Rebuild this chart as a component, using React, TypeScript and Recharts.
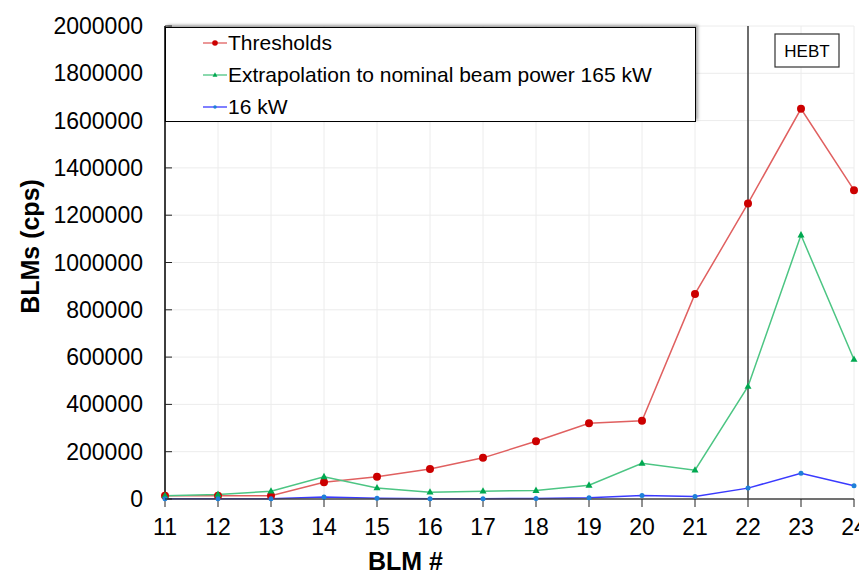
import React from "react";
import {
  LineChart,
  Line,
  XAxis,
  YAxis,
  CartesianGrid,
  ReferenceLine,
  Legend,
} from "recharts";

const blmIds = [11, 12, 13, 14, 15, 16, 17, 18, 19, 20, 21, 22, 23, 24];
const thresholds = [14000, 14000, 14000, 71000, 94000, 127000, 174000, 244000, 320000, 331000, 867000, 1250000, 1650000, 1306000];
const extrapolation = [14000, 19000, 33000, 94000, 47000, 29000, 33000, 36000, 58000, 151000, 122000, 476000, 1116000, 590000];
const kw16 = [1000, 1000, 1000, 8000, 3000, 1000, 1500, 2000, 5000, 15000, 11000, 46000, 109000, 56000];
const yTicks = [0, 200000, 400000, 600000, 800000, 1000000, 1200000, 1400000, 1600000, 1800000, 2000000];

const data = blmIds.map((b, i) => ({
  blm: b,
  thresholds: thresholds[i],
  extrapolation: extrapolation[i],
  kw16: kw16[i],
}));

const FONT = "'Liberation Sans', Arial, sans-serif";

const series = [
  { key: "thresholds", name: "Thresholds", line: "#e06060", dot: "#cc0000", shape: "circle" },
  { key: "extrapolation", name: "Extrapolation to nominal beam power 165 kW", line: "#4cc583", dot: "#00a850", shape: "triangle" },
  { key: "kw16", name: "16 kW", line: "#3a3aff", dot: "#1e80d8", shape: "small" },
];

const Marker = ({ cx, cy, shape, color, scale = 1 }: any) => {
  if (cx == null || cy == null) return null;
  if (shape === "circle") return <circle cx={cx} cy={cy} r={4 * scale} fill={color} />;
  if (shape === "triangle") {
    const h = 4 * scale;
    const w = 3.5 * scale;
    return <path d={`M${cx},${cy - h} L${cx + w},${cy + h * 0.6} L${cx - w},${cy + h * 0.6} Z`} fill={color} />;
  }
  return <circle cx={cx} cy={cy} r={2.5 * scale} fill={color} />;
};

const YTick = ({ x, y, payload }: any) => (
  <g>
    <line x1={x} x2={x + 7} y1={y} y2={y} stroke="#222" strokeWidth={1} />
    <text x={x - 22} y={y} textAnchor="end" dominantBaseline="central" fontSize={23} fontFamily={FONT} fill="#000">
      {payload.value}
    </text>
  </g>
);

const YLabel = ({ viewBox }: any) => {
  const cx = viewBox.x + 30;
  const cy = viewBox.y + viewBox.height / 2 - 16;
  return (
    <text
      x={cx}
      y={cy}
      transform={`rotate(-90, ${cx}, ${cy})`}
      textAnchor="middle"
      dominantBaseline="central"
      fontSize={25}
      fontWeight="bold"
      fontFamily={FONT}
      fill="#000"
    >
      BLMs (cps)
    </text>
  );
};

const HebtLabel = ({ viewBox }: any) => {
  const x = viewBox.x + 27;
  const y = viewBox.y + 8;
  return (
    <g>
      <rect x={x} y={y} width={64} height={33} fill="#fff" stroke="#333" strokeWidth={1.2} />
      <text x={x + 32} y={y + 17} textAnchor="middle" dominantBaseline="central" fontSize={17} fontFamily={FONT} fill="#000">
        HEBT
      </text>
    </g>
  );
};

const LegendBox = () => (
  <div
    style={{
      width: 531,
      height: 95,
      boxSizing: "border-box",
      border: "1.5px solid #000",
      background: "#fff",
      boxShadow: "2px -2px 3px rgba(0,0,0,0.35)",
      paddingLeft: 37,
      fontFamily: FONT,
      fontSize: 21,
      color: "#000",
    }}
  >
    <div style={{ position: "relative", top: -1 }}>
      {series.map((s) => (
        <div key={s.key} style={{ display: "flex", alignItems: "center", height: 32 }}>
          <svg width={24} height={12} style={{ marginRight: 1 }}>
            <line x1={0} x2={24} y1={6} y2={6} stroke={s.line} strokeWidth={1.3} />
            <Marker cx={12} cy={6} shape={s.shape} color={s.dot} scale={0.7} />
          </svg>
          <span>{s.name}</span>
        </div>
      ))}
    </div>
  </div>
);

export default function App() {
  return (
    <div style={{ position: "absolute", left: 0, top: 0, width: 859, height: 578, background: "#fff" }}>
      <LineChart width={859} height={578} data={data} margin={{ top: 26, right: 5, bottom: 0, left: 0 }}>
        <CartesianGrid stroke="#ececec" strokeWidth={1} />
        <XAxis
          dataKey="blm"
          type="number"
          domain={[11, 24]}
          ticks={blmIds}
          interval={0}
          height={79}
          tickSize={8}
          tickMargin={12}
          axisLine={{ stroke: "#444", strokeWidth: 1.5 }}
          tickLine={{ stroke: "#222" }}
          tick={{ fontSize: 23, fontFamily: FONT, fill: "#000" }}
          label={{
            value: "BLM #",
            position: "insideBottom",
            offset: 8,
            dx: -104,
            fontSize: 25,
            fontWeight: "bold",
            fontFamily: FONT,
            fill: "#000",
          }}
        />
        <XAxis
          xAxisId="top"
          orientation="top"
          dataKey="blm"
          type="number"
          domain={[11, 24]}
          height={0}
          tick={false}
          tickLine={false}
          axisLine={{ stroke: "#666", strokeWidth: 1.2 }}
        />
        <YAxis
          type="number"
          domain={[0, 2000000]}
          ticks={yTicks}
          interval={0}
          width={165}
          tickSize={0}
          tickMargin={0}
          axisLine={{ stroke: "#000", strokeWidth: 1.5 }}
          tickLine={false}
          tick={<YTick />}
          label={<YLabel />}
        />
        <YAxis
          yAxisId="right"
          orientation="right"
          domain={[0, 2000000]}
          width={0}
          tick={false}
          tickLine={false}
          axisLine={{ stroke: "#777", strokeWidth: 1.5 }}
        />
        <ReferenceLine x={22} stroke="#111" strokeWidth={1.2} label={<HebtLabel />} />
        <Legend
          layout="horizontal"
          verticalAlign="middle"
          align="center"
          content={<LegendBox />}
          wrapperStyle={{ left: 165, top: 27, width: 531, height: 95 }}
        />
        {series.map((s) => (
          <Line
            key={s.key}
            dataKey={s.key}
            name={s.name}
            stroke={s.line}
            strokeWidth={1.5}
            isAnimationActive={false}
            dot={(p: any) => <Marker key={`${s.key}-${p.index}`} cx={p.cx} cy={p.cy} shape={s.shape} color={s.dot} />}
            activeDot={false}
          />
        ))}
      </LineChart>
    </div>
  );
}
